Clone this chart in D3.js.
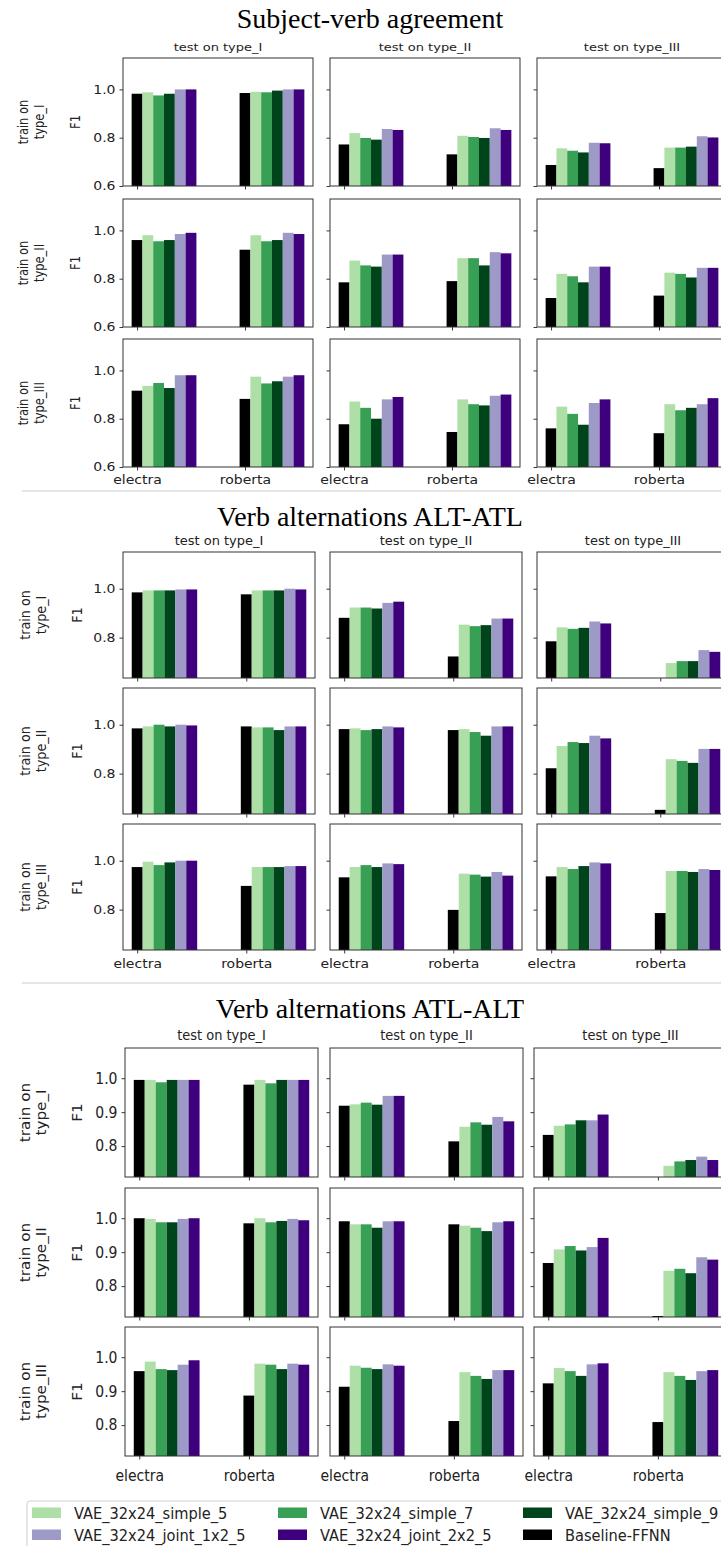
<html>
<head>
<meta charset="utf-8">
<title>F1 by train/test type</title>
<script src="https://d3js.org/d3.v7.min.js"></script>
<style>
    body { margin: 0; background: #fff; }
    svg text { font-family: "DejaVu Sans", sans-serif; fill: #222; }
</style>
</head>
<body>
<svg id="chart" width="721" height="1546"></svg>
<script>
    var models = ["electra", "roberta"];
    var seriesNames = ["Baseline-FFNN", "VAE_32x24_simple_5", "VAE_32x24_simple_7", "VAE_32x24_simple_9", "VAE_32x24_joint_1x2_5", "VAE_32x24_joint_2x2_5"];
    var seriesColors = ["#000000", "#addfa6", "#37a055", "#00441b", "#9e9ac8", "#3f007d"];
    var legendOrder = [1, 4, 2, 5, 3, 0];
    var testLabels = ["test on type_I", "test on type_II", "test on type_III"];
    var trainLabels = ["type_I", "type_II", "type_III"];
    var sectionTitles = ["Subject-verb agreement", "Verb alternations ALT-ATL", "Verb alternations ATL-ALT"];

    // one entry per panel, index = train*3 + test, values in seriesNames order
    var svaElectra = [
        [0.982, 0.988, 0.975, 0.982, 1.0, 1.0],
        [0.772, 0.819, 0.799, 0.792, 0.836, 0.832],
        [0.687, 0.756, 0.746, 0.739, 0.779, 0.777],
        [0.96, 0.98, 0.955, 0.96, 0.985, 0.99],
        [0.785, 0.875, 0.855, 0.85, 0.90, 0.90],
        [0.72, 0.82, 0.81, 0.785, 0.85, 0.85],
        [0.916, 0.936, 0.948, 0.927, 0.98, 0.98],
        [0.777, 0.871, 0.845, 0.80, 0.88, 0.89],
        [0.76, 0.85, 0.82, 0.775, 0.865, 0.88]
    ];
    var svaRoberta = [
        [0.985, 0.99, 0.988, 0.995, 1.0, 1.0],
        [0.731, 0.808, 0.803, 0.799, 0.839, 0.832],
        [0.674, 0.759, 0.759, 0.763, 0.806, 0.801],
        [0.92, 0.98, 0.955, 0.96, 0.99, 0.985],
        [0.79, 0.885, 0.885, 0.855, 0.91, 0.905],
        [0.73, 0.825, 0.82, 0.805, 0.845, 0.845],
        [0.882, 0.974, 0.946, 0.955, 0.974, 0.98],
        [0.745, 0.88, 0.86, 0.855, 0.895, 0.90],
        [0.74, 0.86, 0.835, 0.845, 0.86, 0.885]
    ];
    var altAtlElectra = [
        [0.985, 0.993, 0.993, 0.993, 0.997, 0.997],
        [0.881, 0.923, 0.923, 0.919, 0.942, 0.947],
        [0.785, 0.842, 0.836, 0.840, 0.866, 0.858],
        [0.985, 0.993, 1.0, 0.993, 1.0, 0.997],
        [0.982, 0.985, 0.978, 0.982, 0.993, 0.989],
        [0.822, 0.913, 0.929, 0.925, 0.955, 0.944],
        [0.974, 0.996, 0.982, 0.993, 1.0, 1.0],
        [0.932, 0.974, 0.982, 0.974, 0.989, 0.986],
        [0.936, 0.974, 0.966, 0.978, 0.993, 0.989]
    ];
    var altAtlRoberta = [
        [0.977, 0.993, 0.993, 0.993, 1.0, 0.997],
        [0.723, 0.853, 0.847, 0.851, 0.878, 0.878],
        [0.62, 0.696, 0.704, 0.704, 0.749, 0.742],
        [0.993, 0.989, 0.989, 0.978, 0.993, 0.993],
        [0.978, 0.982, 0.970, 0.955, 0.993, 0.993],
        [0.652, 0.859, 0.852, 0.844, 0.901, 0.901],
        [0.897, 0.974, 0.974, 0.974, 0.978, 0.978],
        [0.799, 0.947, 0.943, 0.935, 0.954, 0.939],
        [0.786, 0.958, 0.958, 0.954, 0.966, 0.962]
    ];
    var atlAltElectra = [
        [0.995, 0.995, 0.988, 0.995, 0.995, 0.995],
        [0.919, 0.923, 0.928, 0.922, 0.948, 0.948],
        [0.833, 0.860, 0.864, 0.876, 0.876, 0.893],
        [1.0, 0.998, 0.988, 0.988, 0.998, 1.0],
        [0.991, 0.982, 0.982, 0.972, 0.991, 0.991],
        [0.868, 0.908, 0.918, 0.905, 0.915, 0.942],
        [0.959, 0.987, 0.965, 0.962, 0.978, 0.991],
        [0.913, 0.975, 0.969, 0.965, 0.979, 0.975],
        [0.923, 0.968, 0.959, 0.945, 0.979, 0.982]
    ];
    var atlAltRoberta = [
        [0.981, 0.995, 0.985, 0.995, 0.995, 0.995],
        [0.814, 0.857, 0.870, 0.863, 0.886, 0.873],
        [0.70, 0.742, 0.755, 0.759, 0.769, 0.759],
        [0.985, 1.0, 0.988, 0.992, 0.998, 0.994],
        [0.982, 0.978, 0.972, 0.962, 0.988, 0.991],
        [0.712, 0.845, 0.851, 0.838, 0.885, 0.878],
        [0.887, 0.981, 0.978, 0.965, 0.981, 0.978],
        [0.812, 0.956, 0.945, 0.936, 0.962, 0.962],
        [0.809, 0.956, 0.945, 0.933, 0.959, 0.962]
    ];
    var svaTicks = [0.6, 0.8, 1.0];
    var altAtlTicks = [0.8, 1.0];
    var atlAltTicks = [0.8, 0.9, 1.0];

    var barWidth = 0.1;
    var xDomain = [-0.13, 1.63];

    // layout of the three stacked figures (sy = vertical squash of their text)
    var sections = [
        { title: sectionTitles[0], titleY: 28, electra: svaElectra, roberta: svaRoberta, ticks: svaTicks,
          yDomain: [0.6, 1.13], colX: [123, 330, 537], panelW: 190, rowY: [58, 199, 339], panelH: 128,
          sy: 0.82, colTitleY: 51, xLabelY: 484, rowLabelX: 28, f1X: 80 },
        { title: sectionTitles[1], titleY: 526, electra: altAtlElectra, roberta: altAtlRoberta, ticks: altAtlTicks,
          yDomain: [0.635, 1.15], colX: [123, 330, 537], panelW: 192, rowY: [552, 688, 824], panelH: 126,
          sy: 0.91, colTitleY: 545, xLabelY: 968, rowLabelX: 30, f1X: 82 },
        { title: sectionTitles[2], titleY: 1018, electra: atlAltElectra, roberta: atlAltRoberta, ticks: atlAltTicks,
          yDomain: [0.709, 1.089], colX: [125, 330, 534], panelW: 193, rowY: [1048, 1188, 1327], panelH: 129,
          sy: 1.09, colTitleY: 1040, xLabelY: 1481, rowLabelX: 30, f1X: 82 }
    ];

    var svg = d3.select("#chart");
    var defs = svg.append("defs");

    function label(g, x, y, str, sy, size, anchor, rotate) {
        var t = g.append("g")
            .attr("transform", "translate(" + x + "," + y + ") scale(1," + sy + ")" + (rotate ? " rotate(-90)" : ""))
            .append("text")
            .attr("text-anchor", anchor || "middle")
            .style("font-size", size + "px");
        if (str !== null) t.text(str);
        return t;
    }

    var clipId = 0;
    sections.forEach(function(s, si) {
        var g = svg.append("g");

        g.append("text")
            .attr("x", 370).attr("y", s.titleY)
            .attr("text-anchor", "middle")
            .style("font-family", "'Liberation Serif', serif")
            .style("font-size", "28px")
            .style("fill", "#000")
            .text(s.title);

        for (var r = 0; r < 3; r++) {
            var top = s.rowY[r];
            var y = d3.scaleLinear().domain(s.yDomain).range([top + s.panelH, top]);
            var cy = top + s.panelH / 2;

            // row label, two lines, rotated
            var rl = label(g, s.rowLabelX, cy, null, s.sy, 14, "middle", true);
            rl.append("tspan").attr("x", 0).attr("y", 0).text("train on");
            rl.append("tspan").attr("x", 0).attr("y", 16).text(trainLabels[r]);
            label(g, s.f1X, cy, "F1", s.sy, 14, "middle", true);

            for (var c = 0; c < 3; c++) {
                var left = s.colX[c];
                var x = d3.scaleLinear().domain(xDomain).range([left, left + s.panelW]);
                var idx = r * 3 + c;
                var panel = g.append("g");

                if (r === 0) {
                    label(g, left + s.panelW / 2, s.colTitleY, testLabels[c], s.sy, 13, "middle", false);
                }

                var id = "clip" + (clipId++);
                defs.append("clipPath").attr("id", id).append("rect")
                    .attr("x", left).attr("y", top).attr("width", s.panelW).attr("height", s.panelH);

                var bars = [];
                models.forEach(function(m, mi) {
                    var vals = mi === 0 ? s.electra[idx] : s.roberta[idx];
                    vals.forEach(function(v, k) {
                        bars.push({ pos: mi + k * barWidth, value: v, series: k });
                    });
                });

                panel.append("g").attr("clip-path", "url(#" + id + ")")
                    .selectAll("rect").data(bars).enter().append("rect")
                    .attr("x", function(d) { return x(d.pos - barWidth / 2); })
                    .attr("width", x(barWidth) - x(0))
                    .attr("y", function(d) { return y(d.value); })
                    .attr("height", function(d) { return Math.max(0, y(s.yDomain[0]) - y(d.value)); })
                    .attr("fill", function(d) { return seriesColors[d.series]; });

                // y axis
                var ya = panel.append("g").attr("transform", "translate(" + left + ",0)")
                    .call(d3.axisLeft(y).tickValues(s.ticks).tickSize(3.5).tickPadding(4)
                        .tickFormat(c === 0 ? d3.format(".1f") : function() { return ""; }));
                ya.select(".domain").remove();
                ya.selectAll("line").attr("stroke", "#222").attr("stroke-width", 0.9);
                ya.selectAll("text")
                    .attr("transform", "scale(1," + s.sy + ")")
                    .style("font-size", "14px")
                    .style("font-family", "'DejaVu Sans', sans-serif")
                    .attr("fill", "#222");

                // x axis
                var bottom = top + s.panelH;
                var xa = panel.append("g").attr("transform", "translate(0," + bottom + ")")
                    .call(d3.axisBottom(x).tickValues([0, 1]).tickSize(3.5)
                        .tickFormat(r === 2 ? function(d) { return models[d]; } : function() { return ""; }));
                xa.select(".domain").remove();
                xa.selectAll("line").attr("stroke", "#222").attr("stroke-width", 0.9);
                xa.selectAll("text")
                    .attr("y", 0).attr("dy", null)
                    .attr("transform", "translate(0," + (s.xLabelY - bottom) + ") scale(1," + s.sy + ")")
                    .style("font-size", "14px")
                    .style("font-family", "'DejaVu Sans', sans-serif")
                    .attr("fill", "#222");

                panel.append("rect")
                    .attr("x", left).attr("y", top)
                    .attr("width", s.panelW).attr("height", s.panelH)
                    .attr("fill", "none").attr("stroke", "#333").attr("stroke-width", 1);
            }
        }
    });

    // separators between the figures
    [491, 983].forEach(function(yy) {
        svg.append("line").attr("x1", 22).attr("x2", 721).attr("y1", yy).attr("y2", yy)
            .attr("stroke", "#dcdcdc").attr("stroke-width", 1.5);
    });

    // legend
    var legend = svg.append("g");
    legend.append("rect")
        .attr("x", 27).attr("y", 1501).attr("width", 720).attr("height", 60).attr("rx", 3)
        .attr("fill", "#fff").attr("stroke", "#cfcfcf").attr("stroke-width", 1);
    var legX = [32, 278, 523];
    var legY = [1507.5, 1529.5];
    legendOrder.forEach(function(k, i) {
        var col = Math.floor(i / 2), row = i % 2;
        legend.append("rect")
            .attr("x", legX[col]).attr("y", legY[row]).attr("width", 29).attr("height", 10.5)
            .attr("fill", seriesColors[k]);
        label(legend, legX[col] + 42, legY[row] + 11.5, seriesNames[k], 1.04, 14.6, "start", false);
    });
</script>
</body>
</html>
